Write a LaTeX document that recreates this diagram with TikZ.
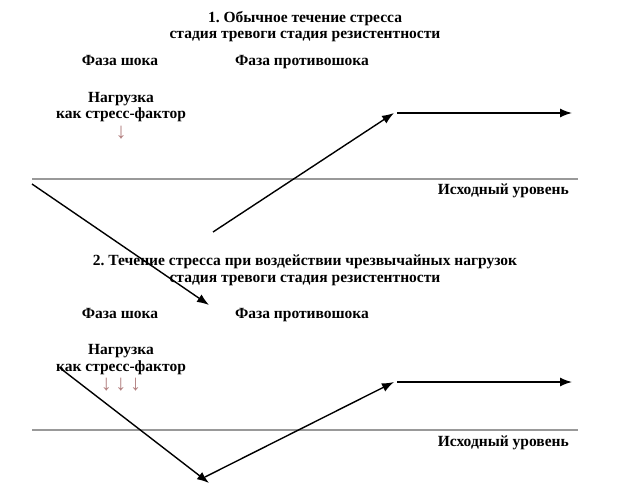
\documentclass[tikz,border=0pt]{standalone}
\usepackage{fontspec}
\setmainfont{Liberation Serif}
\usepackage{tikz}
\usetikzlibrary{arrows.meta,calc,positioning}

\tikzset{
  lbl/.style={font=\bfseries\frenchspacing\fontsize{15.5}{18}\selectfont, inner sep=0pt, anchor=base},
  curve/.style={-{Latex[length=12pt,width=9pt]}, line width=1.4pt},
  level/.style={gray!80, line width=2.2pt},
  load/.style={font=\fontsize{22}{24}\selectfont, inner sep=0pt, text=black!60!red!50}
}

\begin{document}
\begin{tikzpicture}[x=1pt,y=-1pt]
  \useasboundingbox (0,0) rectangle (637,500);
  %first diagram
  \node[lbl] (title1) at (305,23) {1. Обычное течение стресса};
  \node[lbl] (stage1) at (305,39) {стадия тревоги стадия резистентности};
  \node[lbl] (shock1) at (120,66) {Фаза шока};
  \node[lbl] (anti1) at (302,66) {Фаза противошока};
  \node[lbl] (load1) at (121,103) {Нагрузка};
  \node[lbl] (factor1) at (121,119) {как стресс-фактор};
  \node[load, below=3pt of factor1.south] (arr1) {↓};
  % Draw the baseline
  \coordinate (b1l) at (32,179);
  \coordinate (b1r) at (578,179);
  \draw[level] (b1l) -- (b1r);
  \node[lbl, anchor=base east] (base1) at (569,194) {Исходный уровень};
  % Add the curve
  \coordinate (d1s) at (32,184);
  \coordinate (d1e) at (209,305);
  \coordinate (u1s) at (213,232);
  \coordinate (u1e) at (394,113);
  \coordinate (h1s) at (397,113);
  \coordinate (h1e) at (572,113);
  \draw[curve] (d1s) -- (d1e);
  \draw[curve] (u1s) -- (u1e);
  \draw[curve] (h1s) -- (h1e);
  %second diagram
  \node[lbl] (title2) at (305,265) {2. Течение стресса при воздействии чрезвычайных нагрузок};
  \node[lbl] (stage2) at (305,282) {стадия тревоги стадия резистентности};
  \node[lbl] (shock2) at (120,318) {Фаза шока};
  \node[lbl] (anti2) at (302,318) {Фаза противошока};
  \node[lbl] (load2) at (121,354) {Нагрузка};
  \node[lbl] (factor2) at (121,371) {как стресс-фактор};
  \node[load, below=3pt of factor2.south] (arr2) {↓\,↓\,↓};
  % Draw the baseline
  \coordinate (b2l) at (32,430);
  \coordinate (b2r) at (578,430);
  \draw[level] (b2l) -- (b2r);
  \node[lbl, anchor=base east] (base2) at (569,446) {Исходный уровень};
  % Add the curve
  \coordinate (d2s) at (60,368);
  \coordinate (d2e) at (209,483);
  \coordinate (u2s) at (205,477);
  \coordinate (u2e) at (394,382);
  \coordinate (h2s) at (397,382);
  \coordinate (h2e) at (572,382);
  \draw[curve] (d2s) -- (d2e);
  \draw[curve] (u2s) -- (u2e);
  \draw[curve] (h2s) -- (h2e);
\end{tikzpicture}
\end{document}
